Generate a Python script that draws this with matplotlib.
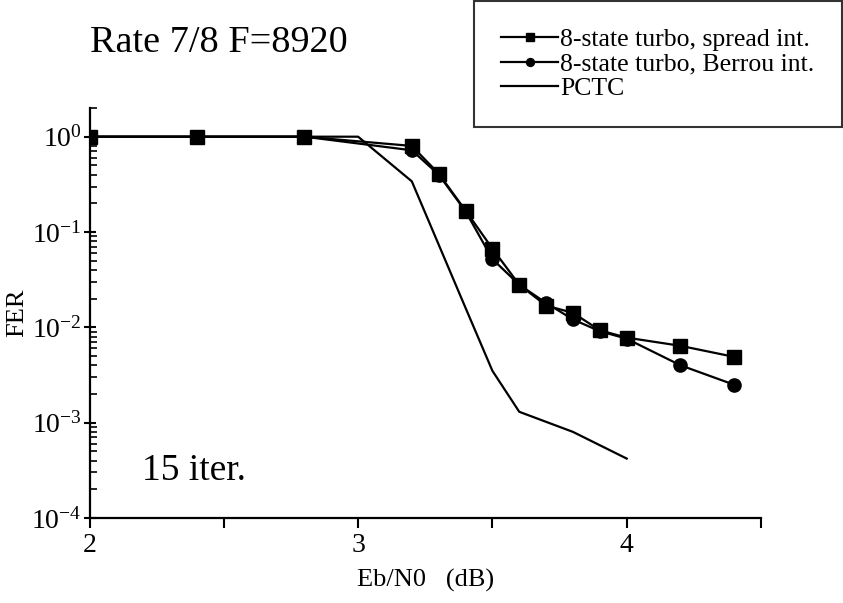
import matplotlib
matplotlib.use("Agg")
import matplotlib.pyplot as plt
from matplotlib.ticker import FixedLocator, LogLocator, NullFormatter

plt.rcParams['font.family'] = ['Liberation Serif', 'DejaVu Serif']
plt.rcParams['mathtext.fontset'] = 'custom'
plt.rcParams['mathtext.rm'] = 'Liberation Serif'
plt.rcParams['mathtext.it'] = 'Liberation Serif:italic'

# data
ebno = [2.0, 2.4, 2.8, 3.2, 3.3, 3.4, 3.5, 3.6, 3.7, 3.8, 3.9, 4.0, 4.2, 4.4]
fer_spread = [1.0, 1.0, 1.0, 0.80, 0.41, 0.168, 0.067, 0.028, 0.0169, 0.0142, 0.0093, 0.0078, 0.0064, 0.0049]
fer_berrou = [1.0, 1.0, 1.0, 0.72, 0.40, 0.165, 0.052, 0.028, 0.018, 0.0121, 0.0091, 0.0076, 0.0040, 0.0025]

ebno_pctc = [2.0, 2.4, 2.8, 3.0, 3.2, 3.4, 3.5, 3.6, 3.8, 4.0]
fer_pctc = [1.0, 1.0, 1.0, 1.0, 0.34, 0.016, 0.0035, 0.0013, 0.0008, 0.00042]

x_ticks = [2.0, 2.5, 3.0, 3.5, 4.0, 4.5]
x_labels = ['2', '', '3', '', '4', '']
y_ticks = [1e-4, 1e-3, 1e-2, 1e-1, 1e0]
y_labels = ['$10^{-4}$', '$10^{-3}$', '$10^{-2}$', '$10^{-1}$', '$10^{0}$']

fig = plt.figure(figsize=(8.43, 6.03), dpi=100)
ax = fig.add_axes([0.1062, 0.141, 0.7965, 0.6799])

l3, = ax.plot(ebno_pctc, fer_pctc, color='black', lw=1.6, label='PCTC')
l2, = ax.plot(ebno, fer_berrou, color='black', lw=1.6, marker='o', ms=9.5,
              label='8-state turbo, Berrou int.')
l1, = ax.plot(ebno, fer_spread, color='black', lw=1.6, marker='s', ms=9.5,
              label='8-state turbo, spread int.')

ax.set_yscale('log')
ax.set_xlim(2.0, 4.5)
ax.set_ylim(1e-4, 2)

ax.xaxis.set_major_locator(FixedLocator(x_ticks))
ax.set_xticklabels(x_labels)
ax.yaxis.set_major_locator(FixedLocator(y_ticks))
ax.set_yticklabels(y_labels)
ax.yaxis.set_minor_locator(LogLocator(base=10, subs=range(2, 10)))
ax.yaxis.set_minor_formatter(NullFormatter())

for s in ['top', 'right']:
    ax.spines[s].set_visible(False)
for s in ['left', 'bottom']:
    ax.spines[s].set_linewidth(1.6)

ax.tick_params(axis='x', direction='out', length=7, width=1.5, labelsize=20, pad=4)
ax.tick_params(axis='y', which='major', direction='inout', length=9, width=1.5, labelsize=20, pad=1)
ax.tick_params(axis='y', which='minor', direction='in', length=5, width=1.2)

ax.set_xlabel('Eb/N0   (dB)', fontsize=19, labelpad=8)
ax.set_ylabel('FER', fontsize=19, labelpad=2)

fig.text(90 / 843, 1 - 52 / 603, 'Rate 7/8 F=8920', fontsize=27.5, ha='left', va='baseline')
fig.text(142 / 843, 1 - 480 / 603, '15 iter.', fontsize=27, ha='left', va='baseline')

leg = fig.legend(handles=[l1, l2, l3], loc='upper right', bbox_to_anchor=(1.0, 1.0),
                 fontsize=18.5, frameon=True, fancybox=False, edgecolor='black',
                 handlelength=2.2, handletextpad=0.1, labelspacing=0.05,
                 borderpad=1.05, markerscale=0.6, borderaxespad=0.05)
leg.get_frame().set_linewidth(1.5)

fig.savefig('out.png', dpi=100)
